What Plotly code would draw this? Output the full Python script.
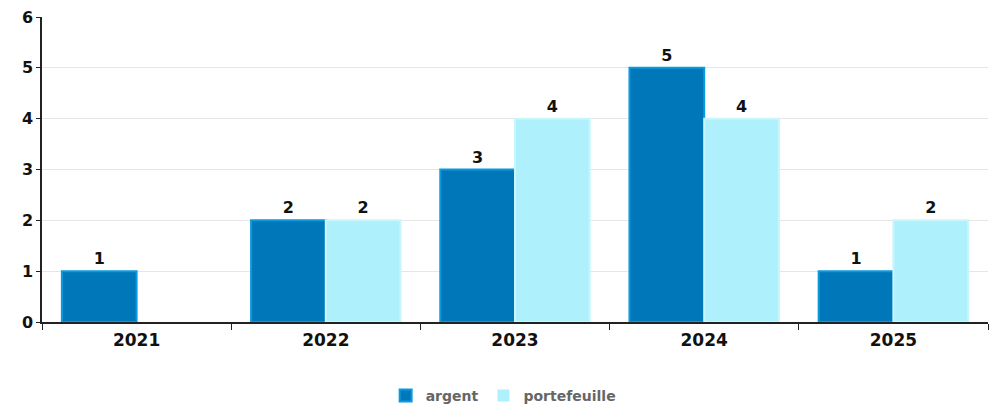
import plotly.graph_objects as go

years = ["2021", "2022", "2023", "2024", "2025"]
argent = [1, 2, 3, 5, 1]
portefeuille = [0, 2, 4, 4, 2]
y_ticks = [0, 1, 2, 3, 4, 5, 6]

def labels(vals):
    return [str(v) if v else "" for v in vals]

def edge_widths(vals):
    return [2 if v else 0 for v in vals]

fig = go.Figure()
fig.add_trace(go.Bar(
    name="argent", x=years, y=argent, text=labels(argent),
    textposition="outside", cliponaxis=False,
    marker=dict(color="#0077b8", line=dict(color="#0a9ae0", width=edge_widths(argent))),
    textfont=dict(family="DejaVu Sans", size=16, color="#111"),
))
fig.add_trace(go.Bar(
    name="portefeuille", x=years, y=portefeuille, text=labels(portefeuille),
    textposition="outside", cliponaxis=False,
    marker=dict(color="#aef0fc", line=dict(color="#c8f6fd", width=edge_widths(portefeuille))),
    textfont=dict(family="DejaVu Sans", size=16, color="#111"),
))

fig.update_layout(
    width=998, height=408,
    margin=dict(l=42, r=10, t=17, b=86, autoexpand=False),
    plot_bgcolor="white", paper_bgcolor="white",
    barmode="group", bargap=0.21, bargroupgap=0.0,
    font=dict(family="DejaVu Sans", color="#111"),
    legend=dict(
        orientation="h", x=0.488, xanchor="center", y=-0.19, yanchor="top",
        font=dict(family="DejaVu Sans", size=14, color="#666", weight="bold"),
        itemwidth=30,
    ),
    showlegend=True,
)
fig.update_traces(textfont_weight="bold")
fig.update_xaxes(
    automargin=False,
    showline=True, linecolor="#222", linewidth=1.5,
    ticks="outside", tickson="boundaries", ticklen=6, tickcolor="#222",
    tickfont=dict(family="DejaVu Sans", size=17, color="#111", weight="bold"),
    ticklabelstandoff=2,
    showgrid=False,
)
fig.update_yaxes(
    automargin=False,
    range=[0, 6], tickvals=y_ticks,
    showline=True, linecolor="#222", linewidth=1.5,
    ticks="outside", ticklen=4, tickcolor="#222",
    tickfont=dict(family="DejaVu Sans", size=16, color="#111", weight="bold"),
    showgrid=True, gridcolor="#e6e6e6", zeroline=False,
)

fig.write_html("out.html", config={"displayModeBar": False},
               post_script="document.body.style.margin='0';")
